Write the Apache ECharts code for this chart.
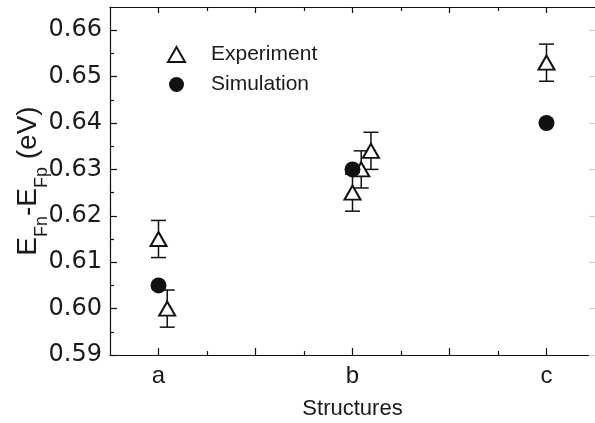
<!DOCTYPE html>
<html><head><meta charset="utf-8">
<script src="https://cdn.jsdelivr.net/npm/echarts@6/dist/echarts.min.js"></script>
<style>html,body{margin:0;padding:0;background:#fff}#c{width:595px;height:423px}</style>
</head><body><div id="c"></div>
<script>
// ---- data ----
const categories = ['a', 'b', 'c'];
const categoryPositions = [1, 3, 5];
const experimentX = [1.0, 1.09, 3.0, 3.09, 3.19, 5.0];
const experimentY = [0.615, 0.600, 0.625, 0.630, 0.634, 0.653];
const experimentErr = [0.004, 0.004, 0.004, 0.004, 0.004, 0.004];
const simulationX = [1, 3, 5];
const simulationY = [0.605, 0.630, 0.640];
const yMajorTicks = [0.59, 0.60, 0.61, 0.62, 0.63, 0.64, 0.65, 0.66];
const yMinorTicks = [0.595, 0.605, 0.615, 0.625, 0.635, 0.645, 0.655];
const xMajorTicks = [1, 2, 3, 4, 5];
const xMinorTicks = [1.5, 2.5, 3.5, 4.5];

// ---- build ----
const expData = experimentX.map((x, i) => [x, experimentY[i]]);
const errData = experimentX.map((x, i) => [x, experimentY[i] - experimentErr[i], experimentY[i] + experimentErr[i]]);
const simData = simulationX.map((x, i) => [x, simulationY[i]]);

const X_MIN = 0.5, X_MAX = 5.5, Y_MIN = 0.59, Y_MAX = 0.665;
const black = '#111';

function xAx(pos, ticks, len, showLine, labels) {
  return {
    type: 'value', position: pos, min: X_MIN, max: X_MAX, gridIndex: 0,
    axisLine: { show: showLine, onZero: false, lineStyle: { color: black, width: 1.2 } },
    axisTick: { show: true, inside: true, length: len, customValues: ticks, lineStyle: { color: black, width: 1.2 } },
    axisLabel: labels ? {
      show: true, customValues: categoryPositions, margin: 9,
      formatter: v => categories[categoryPositions.indexOf(Math.round(v))] || '',
      fontFamily: 'Liberation Sans', fontSize: 24, color: '#1a1a1a'
    } : { show: false },
    splitLine: { show: false }
  };
}
function yAx(pos, ticks, len, showLine, labels, color) {
  return {
    type: 'value', position: pos, min: Y_MIN, max: Y_MAX, gridIndex: 0,
    axisLine: { show: showLine, onZero: false, lineStyle: { color: black, width: 1.2 } },
    axisTick: { show: true, inside: true, length: len, customValues: ticks, lineStyle: { color: color || black, width: 1.2 } },
    axisLabel: labels ? {
      show: true, customValues: yMajorTicks, margin: 8,
      formatter: v => v.toFixed(2),
      fontFamily: 'DejaVu Sans', fontSize: 24, color: '#1a1a1a'
    } : { show: false },
    splitLine: { show: false }
  };
}

const xAxes = [
  Object.assign(xAx('bottom', xMajorTicks, 7, true, true), {
    name: 'Structures', nameLocation: 'middle', nameGap: 43, nameMoveOverlap: false,
    nameTextStyle: { fontFamily: 'Liberation Sans', fontSize: 22, color: '#1a1a1a' }
  }),
  xAx('bottom', xMinorTicks, 4, false, false),
  xAx('top', xMajorTicks, 6, true, false),
  xAx('top', xMinorTicks, 4, false, false)
];
const yAxes = [
  Object.assign(yAx('left', yMajorTicks, 7, true, true), {
    name: 'E{sub|Fn}-E{sub|Fp} (eV)', nameLocation: 'middle', nameRotate: 90, nameGap: 68, nameMoveOverlap: false,
    nameTextStyle: {
      fontFamily: 'Liberation Sans', fontSize: 28, color: '#1a1a1a',
      rich: { sub: { fontFamily: 'Liberation Sans', fontSize: 18, verticalAlign: 'bottom', padding: [0, 0, -9, 0], color: '#1a1a1a' } }
    }
  }),
  yAx('left', yMinorTicks, 4, false, false),
  yAx('right', yMajorTicks, 6, false, false, '#cfcfcf')
];

const chart = echarts.init(document.getElementById('c'), null, { renderer: 'canvas' });
chart.setOption({
  animation: false,
  backgroundColor: '#fff',
  grid: { left: 110, top: 7, width: 485, height: 348, containLabel: false, outerBoundsMode: 'none' },
  xAxis: xAxes,
  yAxis: yAxes,
  legend: {
    orient: 'vertical', left: 167, top: 44, padding: 0,
    itemWidth: 17, itemHeight: 15, itemGap: 9,
    textStyle: { fontFamily: 'Liberation Sans', fontSize: 21, color: '#1a1a1a', padding: [0, 0, 0, 21] },
    data: ['Experiment', 'Simulation']
  },
  series: [
    {
      name: 'ErrorBars', type: 'custom', xAxisIndex: 0, yAxisIndex: 0, z: 2,
      data: errData,
      encode: { x: 0, y: [1, 2] },
      renderItem: function (params, api) {
        const x = api.value(0);
        const lo = api.coord([x, api.value(1)]);
        const hi = api.coord([x, api.value(2)]);
        const w = 7.5;
        const st = { stroke: black, lineWidth: 1.5 };
        return {
          type: 'group',
          children: [
            { type: 'line', shape: { x1: lo[0], y1: lo[1], x2: hi[0], y2: hi[1] }, style: st },
            { type: 'line', shape: { x1: hi[0] - w, y1: hi[1], x2: hi[0] + w, y2: hi[1] }, style: st },
            { type: 'line', shape: { x1: lo[0] - w, y1: lo[1], x2: lo[0] + w, y2: lo[1] }, style: st }
          ]
        };
      }
    },
    {
      name: 'Experiment', type: 'scatter', xAxisIndex: 0, yAxisIndex: 0, z: 3,
      symbol: 'triangle', symbolSize: [16, 14],
      itemStyle: { color: '#fff', borderColor: black, borderWidth: 2, opacity: 1 },
      data: expData
    },
    {
      name: 'Simulation', type: 'scatter', xAxisIndex: 0, yAxisIndex: 0, z: 4,
      symbol: 'circle', symbolSize: 16,
      itemStyle: { color: black, opacity: 1 },
      data: simData
    }
  ]
});
</script>
</body></html>
